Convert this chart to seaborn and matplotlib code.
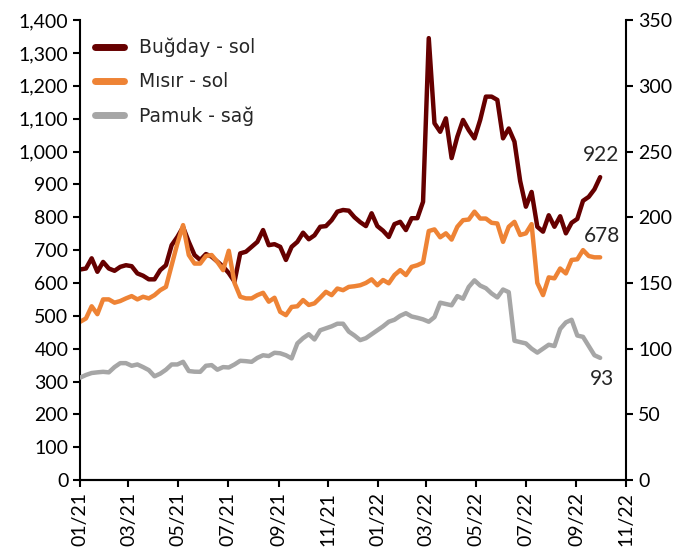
import pandas as pd
import seaborn as sns
import matplotlib.pyplot as plt
import matplotlib.dates as mdates
from matplotlib.ticker import FuncFormatter, MultipleLocator

# weekly prices
dates = pd.date_range('2021-01-01', periods=92, freq='7D')

bugday = [641, 644, 675, 634, 664, 644, 637, 649, 654, 651, 629, 622, 611, 611, 639, 654, 715, 740, 770, 725, 685, 670, 688, 680,
          665, 650, 630, 604, 690, 695, 710, 725, 761, 715, 718, 710, 670, 710, 725, 753, 733, 745, 771, 773, 791, 817, 822, 820,
          800, 785, 773, 812, 773, 759, 740, 779, 786, 761, 797, 797, 847, 1345, 1086, 1060, 1101, 980, 1045, 1096, 1065, 1040, 1096, 1167,
          1167, 1157, 1040, 1070, 1030, 910, 832, 877, 771, 756, 806, 771, 803, 751, 783, 795, 850, 862, 885, 922]

misir = [482, 492, 529, 505, 550, 550, 540, 545, 553, 560, 550, 558, 553, 563, 578, 588, 654, 720, 776, 685, 659, 659, 682, 685,
         664, 639, 698, 600, 558, 553, 553, 563, 570, 543, 555, 512, 502, 527, 529, 548, 533, 538, 555, 573, 563, 583, 578,
         588, 590, 593, 600, 611, 593, 609, 599, 624, 639, 624, 649, 654, 662, 758, 763, 739, 751, 732, 771, 791, 793, 817, 796, 796,
         783, 781, 725, 771, 786, 746, 751, 779, 600, 563, 617, 614, 644, 629, 670, 672, 700, 682, 678, 678]

pamuk = [78, 80, 81.5, 82, 82.4, 82, 86, 89, 89, 87, 88, 86, 83.7, 79, 81, 84, 88, 88, 90, 83, 82.5, 82.4, 87, 87.5,
         84, 86, 85.7, 88, 90.8, 90.5, 90, 93, 95, 94.4, 96.9, 96.5, 95, 92.6, 104, 108, 111, 107, 114, 115.5, 117, 119, 119, 113,
         110, 106.5, 108, 111, 114, 117, 120.5, 122, 125, 127, 124.5, 123.5, 122.3, 120.5, 124, 135, 134, 133, 140, 138, 147, 152, 148, 146,
         142, 139, 145, 143, 106, 105, 104, 100, 97, 100, 103, 102, 115, 120, 122, 110, 109, 102, 95, 93]

sns.set_style('ticks')
plt.rcParams['font.family'] = ['DejaVu Sans']

fig = plt.figure(figsize=(6.8, 5.57), dpi=100)
ax = fig.add_axes([0.118, 0.138, 0.803, 0.826])
ax2 = ax.twinx()

sns.lineplot(x=dates, y=bugday, ax=ax, color='#660000', lw=3.2, label='Buğday - sol', legend=False)
sns.lineplot(x=dates, y=misir, ax=ax, color='#EE8335', lw=3.2, label='Mısır - sol', legend=False)
sns.lineplot(x=dates, y=pamuk, ax=ax2, color='#A6A6A6', lw=3.2, label='Pamuk - sağ', legend=False)

ax.set_ylim(0, 1400)
ax2.set_ylim(0, 350)
ax.yaxis.set_major_locator(MultipleLocator(100))
ax2.yaxis.set_major_locator(MultipleLocator(50))
ax.yaxis.set_major_formatter(FuncFormatter(lambda v, p: f'{v:,.0f}'))

ax.set_xlim(pd.Timestamp('2021-01-01'), pd.Timestamp('2022-11-01'))
ax.xaxis.set_major_locator(mdates.MonthLocator(bymonth=[1, 3, 5, 7, 9, 11]))
ax.xaxis.set_major_formatter(mdates.DateFormatter('%m/%y'))

for a in (ax, ax2):
    a.set_xlabel('')
    a.set_ylabel('')
    a.spines['top'].set_visible(False)
    for s in ('left', 'right', 'bottom'):
        a.spines[s].set_linewidth(1.5)
        a.spines[s].set_color('black')
    a.tick_params(width=1.5, length=5, labelsize=14, colors='black')
    for lab in a.get_xticklabels() + a.get_yticklabels():
        lab.set_family('Lato')
ax.tick_params(axis='x', rotation=90)
ax2.spines['left'].set_visible(False)
ax.spines['right'].set_visible(False)

# last values
ax.annotate(f'{bugday[-1]}', (dates[-1], bugday[-1]), xytext=(1, 9), textcoords='offset points',
            ha='center', va='bottom', fontsize=15, family='Lato')
ax.annotate(f'{misir[-1]}', (dates[-1], misir[-1]), xytext=(1, 8), textcoords='offset points',
            ha='center', va='bottom', fontsize=15, family='Lato')
ax2.annotate(f'{pamuk[-1]}', (dates[-1], pamuk[-1]), xytext=(1, -8), textcoords='offset points',
             ha='center', va='top', fontsize=15, family='Lato')

h1, l1 = ax.get_legend_handles_labels()
h2, l2 = ax2.get_legend_handles_labels()
leg = ax.legend(h1 + h2, l1 + l2, loc='upper left', frameon=False, fontsize=13.5,
                handlelength=1.5, bbox_to_anchor=(-0.003, 0.998), labelspacing=0.8)
for line in leg.get_lines():
    line.set_linewidth(5)
    line.set_solid_capstyle('round')

plt.savefig('out.png', dpi=100)
